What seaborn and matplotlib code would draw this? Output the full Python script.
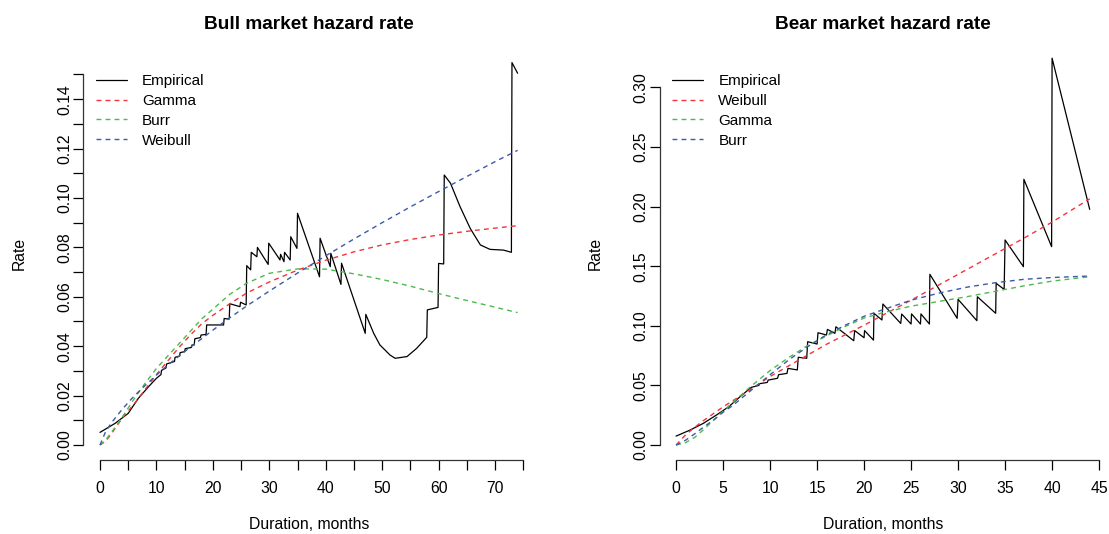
import numpy as np
import pandas as pd
import matplotlib
matplotlib.use("Agg")
import matplotlib.pyplot as plt
import seaborn as sns

# colours of the fitted curves
RED = "#F4333A"
GREEN = "#4DBA4D"
BLUE = "#3B5BA8"

# ---- bull market: empirical hazard
bull_emp_x = [0, 2.7, 5.0, 6.8, 8.6, 10.0, 10.8, 10.9, 11.7, 11.8, 13.2, 13.3, 14.1, 14.2,
              15.0, 15.1, 16.2, 16.3, 16.7, 16.8, 17.8, 17.9, 18.8, 18.9, 21.9, 22.0, 22.9,
              23.0, 24.8, 24.9, 25.9, 26.0, 26.7, 26.8, 27.8, 27.9, 29.8, 29.9, 31.9, 32.0,
              32.6, 32.7, 33.7, 33.8, 34.9, 35.0, 38.9, 39.0, 40.8, 40.9, 42.7, 42.8, 47.0,
              47.1, 48.5, 49.6, 51.4, 52.3, 54.4, 56.1, 57.9, 58.0, 59.9, 60.0, 60.9, 61.0,
              62.1, 63.8, 65.6, 67.4, 69.1, 71.5, 72.9, 73.0, 74.0]
bull_emp_y = [0.0051, 0.0088, 0.0128, 0.0189, 0.0236, 0.0270, 0.0285, 0.0302, 0.0312, 0.0328,
              0.0338, 0.0355, 0.0360, 0.0374, 0.0378, 0.0390, 0.0395, 0.0405, 0.0405, 0.0430,
              0.0435, 0.0445, 0.0448, 0.0486, 0.0486, 0.0512, 0.0510, 0.0572, 0.0560, 0.0578,
              0.0567, 0.0726, 0.0709, 0.0780, 0.0762, 0.0800, 0.0731, 0.0817, 0.0749, 0.0772,
              0.0742, 0.0780, 0.0749, 0.0843, 0.0796, 0.0938, 0.0681, 0.0837, 0.0722, 0.0776,
              0.0650, 0.0736, 0.0452, 0.0529, 0.0452, 0.0405, 0.0364, 0.0351, 0.0358, 0.0391,
              0.0436, 0.0547, 0.0557, 0.0735, 0.0733, 0.1093, 0.1060, 0.0965, 0.0877, 0.0810,
              0.0792, 0.0789, 0.0780, 0.1548, 0.1505]

# ---- bull market: fitted hazards
bull_fit_x = [0, 1, 2, 3, 4, 5, 6, 8, 10, 12, 14, 16, 18, 20, 23, 26, 30, 35, 40, 45, 50,
              55, 60, 65, 70, 74]
bull_gamma = [0, 0.0015, 0.0045, 0.0078, 0.0110, 0.0138, 0.0165, 0.0225, 0.0285, 0.0340,
              0.0395, 0.0445, 0.0490, 0.0525, 0.0572, 0.0615, 0.0660, 0.0708, 0.0748, 0.0782,
              0.0810, 0.0832, 0.0850, 0.0865, 0.0878, 0.0888]
bull_burr = [0, 0.0020, 0.0050, 0.0082, 0.0115, 0.0150, 0.0185, 0.0250, 0.0310, 0.0360,
             0.0410, 0.0460, 0.0510, 0.0550, 0.0610, 0.0655, 0.0695, 0.0713, 0.0712, 0.0693,
             0.0670, 0.0643, 0.0613, 0.0585, 0.0558, 0.0536]
bull_weibull = [0, 0.0054, 0.0089, 0.0118, 0.0146, 0.0172, 0.0197, 0.0241, 0.0283, 0.0323,
                0.0360, 0.0396, 0.0430, 0.0465, 0.0515, 0.0563, 0.0623, 0.0696, 0.0766,
                0.0834, 0.0900, 0.0964, 0.1026, 0.1087, 0.1147, 0.1193]

# ---- bear market: empirical hazard
bear_emp_x = [0, 1.5, 2.9, 4.3, 5.6, 6.8, 8.0, 8.8, 8.9, 9.7, 9.8, 10.8, 10.9, 11.8, 11.9,
              12.9, 13.0, 13.9, 14.0, 15.0, 15.1, 16.0, 16.1, 16.9, 17.0, 18.9, 19.0, 20.0,
              20.05, 21.0, 21.05, 21.9, 22.0, 23.9, 24.0, 25.0, 25.05, 26.0, 26.05, 26.95,
              27.0, 29.9, 30.0, 32.0, 32.05, 34.0, 34.05, 34.9, 35.0, 36.95, 37.0, 39.95,
              40.0, 44.0]
bear_emp_y = [0.0075, 0.0126, 0.0182, 0.0252, 0.0321, 0.0405, 0.0484, 0.0500, 0.0515, 0.0525,
              0.0545, 0.0560, 0.0590, 0.0601, 0.0643, 0.0630, 0.0736, 0.0728, 0.0867, 0.0847,
              0.0942, 0.0923, 0.0970, 0.0937, 0.0992, 0.0875, 0.0960, 0.0900, 0.0960, 0.0880,
              0.1105, 0.1049, 0.1183, 0.1020, 0.1099, 0.1015, 0.1100, 0.1015, 0.1100, 0.1015,
              0.1432, 0.1063, 0.1222, 0.1043, 0.1244, 0.1105, 0.1356, 0.1306, 0.1720, 0.1496,
              0.2229, 0.1664, 0.3245, 0.1977]

# ---- bear market: fitted hazards
bear_fit_x = [0, 1, 2, 3, 4, 5, 6, 8, 10, 12, 14, 16, 18, 20, 22, 25, 28, 31, 34, 37, 40, 44]
bear_weibull = [0, 0.0085, 0.0150, 0.0210, 0.0265, 0.0320, 0.0370, 0.0470, 0.0575, 0.0665,
                0.0755, 0.0845, 0.0925, 0.1005, 0.1090, 0.1215, 0.1345, 0.1475, 0.1605,
                0.1735, 0.1870, 0.2065]
bear_gamma = [0, 0.0020, 0.0065, 0.0135, 0.0210, 0.0285, 0.0355, 0.0495, 0.0625, 0.0735,
              0.0835, 0.0915, 0.0995, 0.1065, 0.1110, 0.1165, 0.1205, 0.1245, 0.1290,
              0.1335, 0.1375, 0.1412]
bear_burr = [0, 0.0040, 0.0095, 0.0155, 0.0210, 0.0275, 0.0330, 0.0460, 0.0590, 0.0715,
             0.0825, 0.0925, 0.1005, 0.1080, 0.1135, 0.1215, 0.1275, 0.1325, 0.1362,
             0.1390, 0.1405, 0.1418]

sns.set_style("ticks")
plt.rcParams['font.family'] = ['Liberation Sans', 'DejaVu Sans']
plt.rcParams['axes.linewidth'] = 0.9
plt.rcParams['xtick.major.width'] = 0.9
plt.rcParams['ytick.major.width'] = 0.9
plt.rcParams['xtick.major.size'] = 7
plt.rcParams['ytick.major.size'] = 7
# plain black text and axes, like base R graphics
for key in ['text.color', 'axes.labelcolor', 'xtick.color', 'ytick.color',
            'xtick.labelcolor', 'ytick.labelcolor']:
    plt.rcParams[key] = 'black'
plt.rcParams['axes.edgecolor'] = '#333333'

FS = 11.3


def draw_panel(ax, emp_x, emp_y, fit_x, fits, title):
    emp = pd.DataFrame({'x': emp_x, 'y': emp_y})
    sns.lineplot(data=emp, x='x', y='y', ax=ax, color='black', linewidth=0.9,
                 estimator=None, sort=False, label='Empirical')
    for name, vals, col in fits:
        df = pd.DataFrame({'x': fit_x, 'y': vals})
        sns.lineplot(data=df, x='x', y='y', ax=ax, color=col, linewidth=1.0,
                     linestyle=(0, (3.5, 3)), estimator=None, sort=False, label=name)
    ax.set_title(title, fontsize=13.7, fontweight='bold', pad=13, color='black')
    ax.set_xlabel("Duration, months", fontsize=FS, labelpad=15)
    ax.set_ylabel("Rate", fontsize=FS, labelpad=22)
    sns.despine(ax=ax)
    leg = ax.legend(loc='upper left', frameon=False, fontsize=11, handlelength=2.0,
                    handletextpad=1.0, labelspacing=0.38, borderpad=0, borderaxespad=0,
                    bbox_to_anchor=(0.029, 0.935))
    for txt in leg.get_texts():
        txt.set_color('black')
    return leg


fig = plt.figure(figsize=(11.09, 5.34), dpi=100)
ax1 = fig.add_axes([0.0751, 0.138, 0.4067, 0.7734])
ax2 = fig.add_axes([0.5947, 0.138, 0.4028, 0.7734])

draw_panel(ax1, bull_emp_x, bull_emp_y, bull_fit_x,
           [('Gamma', bull_gamma, RED), ('Burr', bull_burr, GREEN),
            ('Weibull', bull_weibull, BLUE)],
           "Bull market hazard rate")
draw_panel(ax2, bear_emp_x, bear_emp_y, bear_fit_x,
           [('Weibull', bear_weibull, RED), ('Gamma', bear_gamma, GREEN),
            ('Burr', bear_burr, BLUE)],
           "Bear market hazard rate")

# R style axes: 4% padding, axis lines only between first and last tick
ax1.set_xlim(-2.96, 76.96)
ax1.set_ylim(-0.0062, 0.1610)
xt1 = np.arange(0, 76, 5)
ax1.set_xticks(xt1)
ax1.set_xticklabels([str(t) if t % 10 == 0 else '' for t in xt1])
yt1 = np.arange(0, 16) / 100
ax1.set_yticks(yt1)
ax1.set_yticklabels([f"{v:.2f}" if i % 2 == 0 else '' for i, v in enumerate(yt1)])
ax1.spines['bottom'].set_bounds(0, 75)
ax1.spines['left'].set_bounds(0, 0.15)

ax2.set_xlim(-1.76, 45.76)
ax2.set_ylim(-0.0128, 0.3336)
xt2 = np.arange(0, 46, 5)
ax2.set_xticks(xt2)
ax2.set_xticklabels([str(t) for t in xt2])
yt2 = np.arange(0, 7) * 0.05
ax2.set_yticks(yt2)
ax2.set_yticklabels([f"{v:.2f}" for v in yt2])
ax2.spines['bottom'].set_bounds(0, 45)
ax2.spines['left'].set_bounds(0, 0.30)

for ax in (ax1, ax2):
    ax.tick_params(axis='x', labelsize=FS, pad=8)
    ax.tick_params(axis='y', labelsize=FS, pad=1, labelrotation=90)
    for lab in ax.get_yticklabels():
        lab.set_verticalalignment('center')

fig.savefig("out.png", dpi=100)
